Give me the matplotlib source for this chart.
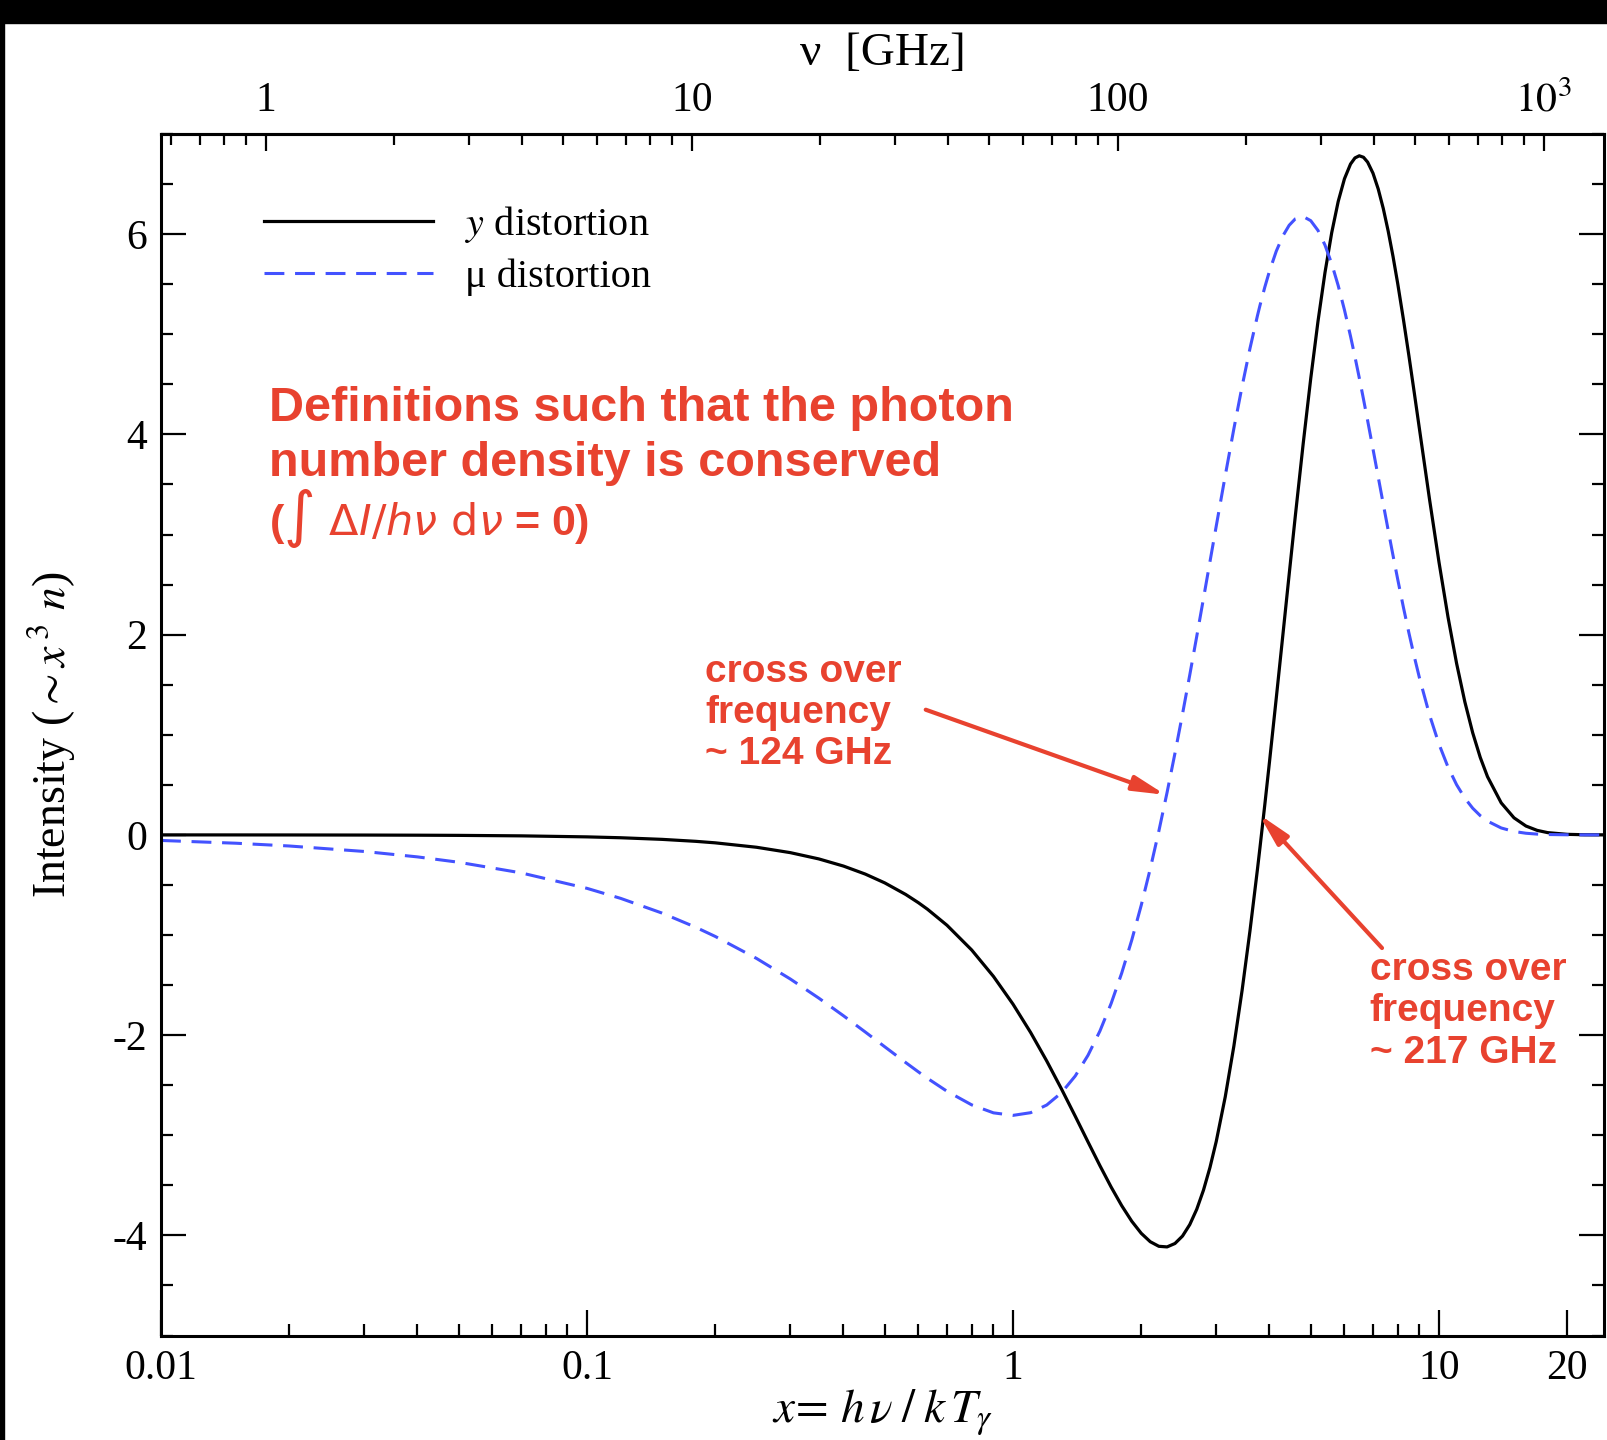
import numpy as np
import matplotlib
matplotlib.use("Agg")
import matplotlib.pyplot as plt
from matplotlib.ticker import FixedLocator, FixedFormatter, NullFormatter
from matplotlib.patches import Rectangle

plt.rcParams['font.family'] = ['Liberation Serif', 'DejaVu Serif']
plt.rcParams['mathtext.fontset'] = 'stix'
plt.rcParams['axes.unicode_minus'] = False

# values, x = h nu / k T
x_vals = [0.01, 0.015, 0.02, 0.03, 0.04, 0.05, 0.07, 0.1, 0.12, 0.15, 0.18, 0.2, 0.25,
          0.3, 0.35, 0.4, 0.45, 0.5, 0.56, 0.6, 0.63, 0.7, 0.8, 0.9, 1.0, 1.1, 1.2,
          1.3, 1.4, 1.5, 1.6, 1.7, 1.8, 1.9, 2.0, 2.1, 2.2, 2.3, 2.4, 2.5, 2.6, 2.7,
          2.8, 2.9, 3.0, 3.15, 3.3, 3.45, 3.6, 3.75, 3.8, 3.9, 4.0, 4.15, 4.3, 4.45,
          4.6, 4.8, 5.0, 5.2, 5.4, 5.6, 5.8, 6.0, 6.2, 6.35, 6.5, 6.65, 6.8, 7.0,
          7.2, 7.4, 7.6, 7.8, 8.0, 8.25, 8.5, 8.75, 9.0, 9.5, 10, 10.5, 11, 11.5,
          12, 12.5, 13, 14, 15, 16, 17, 18, 20, 22, 25]

y_dist = [-0.0002, -0.00045, -0.0008, -0.0018, -0.0032, -0.005, -0.0098, -0.020,
          -0.0287, -0.0448, -0.0645, -0.0795, -0.1237, -0.1773, -0.2400, -0.3115,
          -0.3915, -0.4796, -0.5952, -0.6780, -0.7429, -0.9028, -1.1498, -1.4140,
          -1.6904, -1.9735, -2.2581, -2.5386, -2.8097, -3.0664, -3.3039, -3.5176,
          -3.7036, -3.8585, -3.9792, -4.0634, -4.1091, -4.1152, -4.0811, -4.0068,
          -3.8925, -3.7393, -3.5485, -3.3221, -3.0623, -2.6155, -2.1096, -1.5532,
          -0.9592, -0.3384, -0.1274, 0.2983, 0.7262, 1.3658, 1.9933, 2.6028, 3.1845,
          3.9070, 4.5581, 5.1294, 5.6155, 6.0142, 6.3260, 6.5531, 6.7001, 6.7610,
          6.7824, 6.7675, 6.7192, 6.6083, 6.4514, 6.2562, 6.0293, 5.7778, 5.5073,
          5.1502, 4.7852, 4.4161, 4.0513, 3.3540, 2.7244, 2.1758, 1.7118, 1.3288,
          1.0193, 0.7734, 0.5810, 0.3194, 0.1703, 0.0885, 0.0450, 0.0224, 0.0053,
          0.0012, 0.0001]

mu_dist = [-0.0557, -0.0834, -0.1110, -0.1657, -0.2199, -0.2736, -0.3793, -0.5340,
           -0.6344, -0.7810, -0.9227, -1.0143, -1.2338, -1.4390, -1.6301, -1.8066,
           -1.9688, -2.1163, -2.2741, -2.3677, -2.4316, -2.5607, -2.6966, -2.7763,
           -2.8015, -2.7747, -2.6981, -2.5749, -2.4082, -2.2016, -1.9587, -1.6835,
           -1.3798, -1.0519, -0.7036, -0.3389, 0.0382, 0.4238, 0.8145, 1.2067, 1.5970,
           1.9826, 2.3606, 2.7284, 3.0837, 3.5889, 4.0558, 4.4799, 4.8581, 5.1883,
           5.2875, 5.4695, 5.6295, 5.8296, 5.9816, 6.0886, 6.1525, 6.1755, 6.1343,
           6.0367, 5.8908, 5.7046, 5.4861, 5.2422, 4.9797, 4.7744, 4.5642, 4.3513,
           4.1376, 3.8540, 3.5752, 3.3039, 3.0421, 2.7916, 2.5535, 2.2738, 2.0170,
           1.7813, 1.5670, 1.1996, 0.9067, 0.6774, 0.5008, 0.3668, 0.2663, 0.1919,
           0.1373, 0.0689, 0.0338, 0.0163, 0.0077, 0.0036, 0.0008, 0.0002, 0.0]

GHZ_PER_X = 56.78

x_major = [0.01, 0.1, 1, 10, 20]
x_major_labels = ['0.01', '0.1', '1', '10', '20']
nu_major = [1, 10, 100, 1000]
nu_major_labels = ['1', '10', '100', r'$10^3$']
y_major = [-4, -2, 0, 2, 4, 6]

red = '#E8422F'
blue = '#4352FF'

fig = plt.figure(figsize=(16.07, 14.4), dpi=100)
ax = fig.add_axes([161 / 1607, 1 - 1335.5 / 1440, 1443 / 1607, 1201.5 / 1440])

ax.plot(x_vals, y_dist, color='black', lw=2.3, label=r'$y$ distortion')
ax.plot(x_vals, mu_dist, color=blue, lw=2.2, dashes=(6.5, 3.5), label='μ distortion')

ax.set_xscale('log')
ax.set_xlim(0.01, 24.4)
ax.set_ylim(-5, 7)

ax.xaxis.set_major_locator(FixedLocator(x_major))
ax.xaxis.set_major_formatter(FixedFormatter(x_major_labels))
ax.xaxis.set_minor_locator(FixedLocator([k * 10.0 ** d for d in (-2, -1, 0) for k in range(2, 10)]))
ax.xaxis.set_minor_formatter(NullFormatter())
ax.yaxis.set_major_locator(FixedLocator(y_major))
ax.yaxis.set_minor_locator(FixedLocator(np.arange(-5, 7.01, 0.5)))

ax.tick_params(which='both', direction='in', top=False, right=True, labelsize=30, width=1.6)
ax.tick_params(axis='x', which='major', length=19, pad=10)
ax.tick_params(axis='x', which='minor', length=9)
ax.tick_params(axis='y', which='major', length=18, pad=10)
ax.tick_params(axis='y', which='minor', length=8.5)
for s in ax.spines.values():
    s.set_linewidth(2.2)

ax.set_xlabel(r'$x\!=\,h\,\nu\;/\;k\,T_\gamma$', fontsize=34, labelpad=0)
ax.set_ylabel(r'Intensity ($\sim x^{\,3}\ n$)', fontsize=33, labelpad=25)

secax = ax.secondary_xaxis('top', functions=(lambda x: x * GHZ_PER_X, lambda v: v / GHZ_PER_X))
secax.xaxis.set_major_locator(FixedLocator(nu_major))
secax.xaxis.set_major_formatter(FixedFormatter(nu_major_labels))
secax.xaxis.set_minor_locator(FixedLocator([k * 10.0 ** d for d in (-1, 0, 1, 2) for k in range(2, 10)]))
secax.xaxis.set_minor_formatter(NullFormatter())
secax.tick_params(which='both', direction='in', labelsize=30, width=1.6)
secax.tick_params(which='major', length=12, pad=10)
secax.tick_params(which='minor', length=8)
secax.spines['top'].set_linewidth(2.2)
secax.set_xlabel('ν  [GHz]', fontsize=34, labelpad=12)

ax.legend(loc='upper left', bbox_to_anchor=(0.0714, 0.9415), frameon=False, fontsize=29,
          handlelength=4.2, handletextpad=0.8, labelspacing=0.32, borderpad=0, borderaxespad=0)

# annotations
ax.text(0.0179, 4.13, 'Definitions such that the photon', family='Liberation Sans',
        weight='bold', fontsize=35, color=red, va='baseline')
ax.text(0.0179, 3.586, 'number density is conserved', family='Liberation Sans',
        weight='bold', fontsize=35, color=red, va='baseline')
ax.text(0.0179, 3.0, r'($\int\ \Delta I/h\nu\ \mathrm{d}\nu$ = 0)', family='Liberation Sans',
        weight='bold', fontsize=31, color=red, va='baseline', math_fontfamily='dejavusans')

ax.text(0.1897, 1.81, 'cross over\nfrequency\n~ 124 GHz', family='Liberation Sans',
        weight='bold', fontsize=28, color=red, va='top', linespacing=1.19)
ax.text(6.88, -1.17, 'cross over\nfrequency\n~ 217 GHz', family='Liberation Sans',
        weight='bold', fontsize=28, color=red, va='top', linespacing=1.19)

arrow = dict(arrowstyle='-|>,head_length=1.2,head_width=0.28', color=red, lw=3,
             mutation_scale=16, shrinkA=0, shrinkB=0)
ax.annotate('', xy=(2.28, 0.40), xytext=(0.624, 1.25), arrowprops=arrow)
ax.annotate('', xy=(3.78, 0.205), xytext=(7.35, -1.13), arrowprops=arrow)

# dark border of the screenshot
fig.patches.append(Rectangle((0, 1 - 23 / 1440), 1, 23 / 1440, transform=fig.transFigure,
                             color='black', zorder=10))
fig.patches.append(Rectangle((0, 0), 4 / 1607, 1, transform=fig.transFigure,
                             color='black', zorder=10))

fig.savefig('out.png', dpi=100)
